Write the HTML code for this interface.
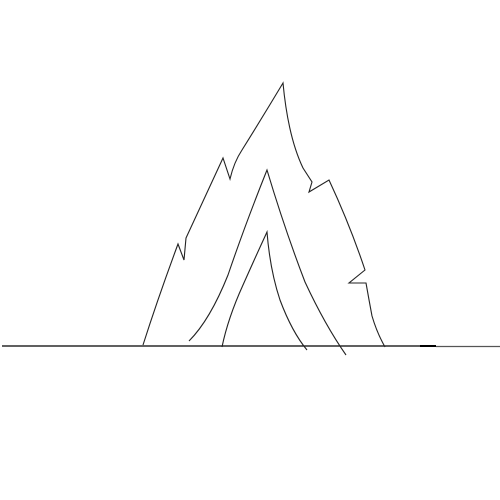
<!DOCTYPE html>
<html><head><meta charset="utf-8"><style>
html,body{margin:0;padding:0;background:#fff;width:500px;height:500px;overflow:hidden}
svg{display:block}
</style></head><body>
<svg width="500" height="500" viewBox="0 0 500 500">
  <line x1="2" y1="346" x2="420" y2="346" stroke="#000" stroke-width="1.2"/>
  <line x1="420" y1="346" x2="436" y2="346" stroke="#000" stroke-width="2"/>
  <line x1="436" y1="346.5" x2="500" y2="346.5" stroke="#555" stroke-width="1.2"/>
  <path d="M143,345 Q158,298 178,244 L184,260 L186,238 L223,158 L230,179 Q234,162 242,150 Q262,118 283,83 C286,115 292,145 303,168 L312,182 L309,192 L329,180 Q350,225 365,270 L349,283 L366,283 Q369,300 372,316 Q377,333 385,347" fill="none" stroke="#222" stroke-width="1.1"/>
  <path d="M189,341 Q210,320 228,275 Q245,225 267,170 Q285,230 305,282 Q325,325 346,355" fill="none" stroke="#222" stroke-width="1.1"/>
  <path d="M222,347 Q228,318 243,285 Q255,258 267,232 Q270,270 280,300 Q292,332 307,350" fill="none" stroke="#222" stroke-width="1.1"/>
</svg>
</body></html>
